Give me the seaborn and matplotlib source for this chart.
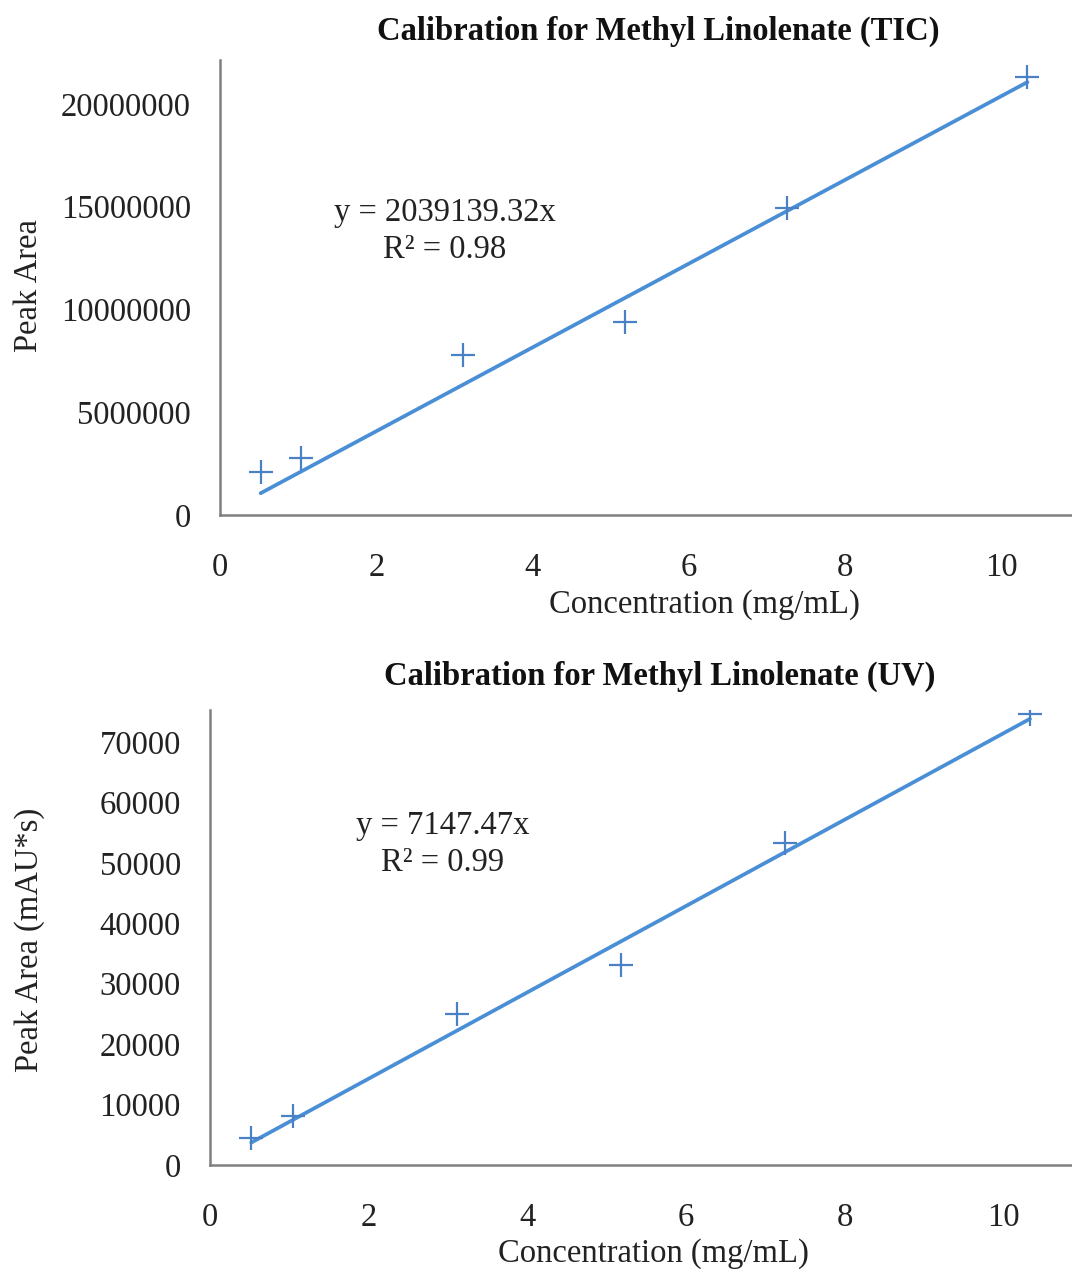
import matplotlib
matplotlib.use("Agg")
import matplotlib.pyplot as plt
import seaborn as sns
import numpy as np
import pandas as pd

# ---- data ----
concentration = [0.52, 1.04, 3.11, 5.18, 7.25, 10.33]
tic_area = [2090000, 2770000, 7790000, 9390000, 14940000, 21310000]
uv_area = [4470, 8100, 25000, 33100, 53300, 74600]
tic_slope = 2039139.32
uv_slope = 7147.47
tic_r2 = 0.98
uv_r2 = 0.99
tic_yticks = [0, 5000000, 10000000, 15000000, 20000000]
uv_yticks = [0, 10000, 20000, 30000, 40000, 50000, 60000, 70000]
xticks = [0, 2, 4, 6, 8, 10]

sns.set_style("white")
plt.rcParams['font.family'] = ['Liberation Serif', 'DejaVu Serif']

line_color = '#4a8fd6'
marker_color = '#4a80c4'
spine_color = '#808080'
FS = 23.5

fig = plt.figure(figsize=(10.72, 12.71), dpi=100)
ax1 = fig.add_axes([220/1072, 1-515/1271, 852/1072, 455/1271])
ax2 = fig.add_axes([210/1072, 1-1165/1271, 862/1072, 455/1271])

def draw(ax, y, slope, r2, yticks, ylim, xlim, title, ylabel, eqpos, titlepos, xlabpos, ylabpos):
    df = pd.DataFrame({'x': concentration, 'y': y})
    xs = np.array([min(concentration), max(concentration)])
    fit = pd.DataFrame({'x': xs, 'y': slope * xs})
    sns.lineplot(data=fit, x='x', y='y', ax=ax, color=line_color, linewidth=2.7)
    sns.scatterplot(data=df, x='x', y='y', ax=ax, marker='+', s=280,
                    color=marker_color, linewidth=1.6, zorder=3)
    ax.set_xlim(*xlim)
    ax.set_ylim(*ylim)
    ax.set_xticks(xticks)
    ax.set_yticks(yticks)
    ax.set_xticklabels([str(t) for t in xticks])
    ax.set_yticklabels([str(t) for t in yticks])
    ax.tick_params(axis='both', length=0, labelsize=FS, colors='#222222')
    ax.tick_params(axis='y', pad=21)
    ax.tick_params(axis='x', pad=27)
    for s in ['top', 'right']:
        ax.spines[s].set_visible(False)
    for s in ['left', 'bottom']:
        ax.spines[s].set_color(spine_color)
        ax.spines[s].set_linewidth(1.8)
    ax.set_xlabel('Concentration (mg/mL)', fontsize=FS, color='#222222')
    ax.set_ylabel(ylabel, fontsize=FS, color='#222222')
    ax.xaxis.label.set_va('center')
    ax.yaxis.label.set_va('center')
    ax.yaxis.label.set_ha('center')
    ax.xaxis.set_label_coords(*xlabpos)
    ax.yaxis.set_label_coords(*ylabpos)
    ax.text(titlepos[0], titlepos[1], title, transform=ax.transAxes, ha='center',
            va='center', fontsize=FS, fontweight='bold', color='#111111')
    ax.text(eqpos[0], eqpos[1], f'y = {slope:.2f}x\nR² = {r2:.2f}', transform=ax.transAxes,
            ha='center', va='center', fontsize=FS, color='#222222', linespacing=1.25)

draw(ax1, tic_area, tic_slope, tic_r2, tic_yticks, (0, 22140000), (0, 10.9),
     'Calibration for Methyl Linolenate (TIC)', 'Peak Area',
     (0.264, 0.624), (0.514, 1.062), (0.569, -0.196), (-0.225, 0.505))
draw(ax2, uv_area, uv_slope, uv_r2, uv_yticks, (0, 75300), (0, 10.86),
     'Calibration for Methyl Linolenate (UV)', 'Peak Area (mAU*s)',
     (0.27, 0.705), (0.522, 1.074), (0.515, -0.194), (-0.209, 0.495))

fig.savefig('out.png', dpi=100)
